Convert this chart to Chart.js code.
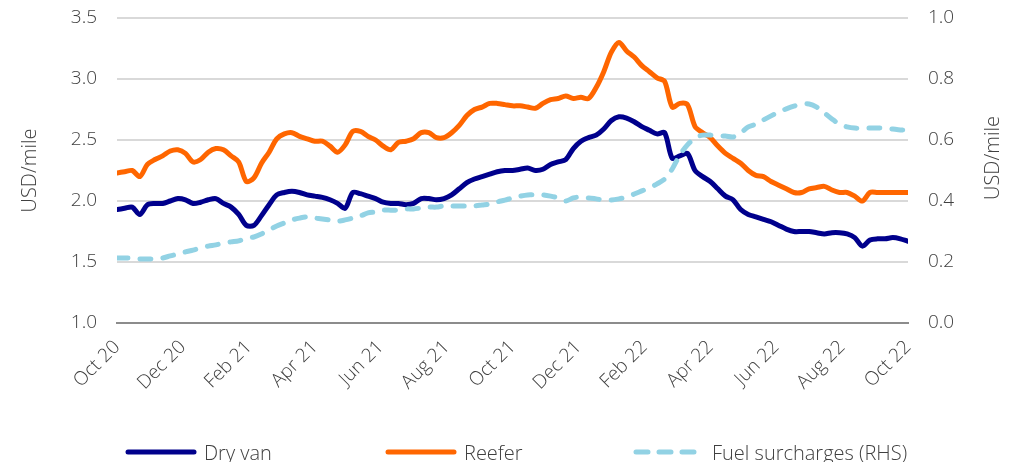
<!DOCTYPE html>
<html>
<head>
<meta charset="utf-8">
<script src="https://cdn.jsdelivr.net/npm/chart.js@4.4.1/dist/chart.umd.min.js"></script>
<style>
  body { margin: 0; background: #fff; }
  #wrap { position: relative; width: 1026px; height: 462px; }
  #legend { position: absolute; left: 0; top: 438px; width: 1026px; height: 28px;
    font-family: 'Open Sans', sans-serif; font-weight: 300; font-size: 20px; color: #404040; }
  .item { position: absolute; top: 0; height: 28px; display: flex; align-items: center; white-space: nowrap; }
  .item svg { margin-right: 7px; }
</style>
</head>
<body>
<div id="wrap">
  <canvas id="chart" width="1026" height="462"></canvas>
  <div id="legend"></div>
</div>
<script>
// x axis: two-monthly labels, weekly observations in between
var tickLabels = ['Oct 20', 'Dec 20', 'Feb 21', 'Apr 21', 'Jun 21', 'Aug 21', 'Oct 21',
                  'Dec 21', 'Feb 22', 'Apr 22', 'Jun 22', 'Aug 22', 'Oct 22'];

var seriesNames = ['Dry van', 'Reefer', 'Fuel surcharges (RHS)'];
var seriesColors = ['#00008c', '#ff6600', '#92d2e4'];

// USD/mile, weekly
var dryVan = [1.93,1.94,1.95,1.89,1.97,1.98,1.98,2.00,2.02,2.01,
              1.98,1.99,2.01,2.02,1.98,1.95,1.89,1.80,1.80,1.88,
              1.97,2.05,2.07,2.08,2.07,2.05,2.04,2.03,2.01,1.98,
              1.94,2.07,2.06,2.04,2.02,1.99,1.98,1.98,1.97,1.98,
              2.02,2.02,2.01,2.02,2.05,2.10,2.15,2.18,2.20,2.22,
              2.24,2.25,2.25,2.26,2.27,2.25,2.26,2.30,2.32,2.34,
              2.43,2.49,2.52,2.54,2.59,2.66,2.69,2.68,2.65,2.61,
              2.58,2.55,2.56,2.35,2.37,2.39,2.25,2.20,2.16,2.10,
              2.04,2.01,1.93,1.89,1.87,1.85,1.83,1.80,1.77,1.75,
              1.75,1.75,1.74,1.73,1.74,1.74,1.73,1.70,1.63,1.68,
              1.69,1.69,1.70,1.69,1.67];

var reefer = [2.23,2.24,2.25,2.20,2.30,2.34,2.37,2.41,2.42,2.39,
              2.32,2.34,2.40,2.43,2.42,2.37,2.32,2.16,2.19,2.31,
              2.40,2.51,2.55,2.56,2.53,2.51,2.49,2.49,2.45,2.40,
              2.46,2.57,2.57,2.53,2.50,2.45,2.42,2.48,2.49,2.51,
              2.56,2.56,2.52,2.52,2.56,2.62,2.70,2.75,2.77,2.80,
              2.80,2.79,2.78,2.78,2.77,2.76,2.80,2.83,2.84,2.86,
              2.84,2.85,2.84,2.93,3.06,3.22,3.30,3.23,3.18,3.11,
              3.06,3.01,2.98,2.77,2.80,2.79,2.61,2.56,2.52,2.45,
              2.39,2.35,2.31,2.25,2.21,2.20,2.16,2.13,2.10,2.07,
              2.07,2.10,2.11,2.12,2.09,2.07,2.07,2.04,2.00,2.07,
              2.07,2.07,2.07,2.07,2.07];

// right hand scale
var fuel = [0.213,0.213,0.213,0.210,0.210,0.210,0.213,0.220,0.226,0.233,
            0.239,0.246,0.252,0.256,0.262,0.266,0.269,0.279,0.282,0.292,
            0.305,0.318,0.328,0.338,0.344,0.348,0.344,0.341,0.338,0.334,
            0.338,0.344,0.351,0.361,0.364,0.370,0.370,0.370,0.374,0.374,
            0.377,0.380,0.380,0.384,0.384,0.384,0.384,0.384,0.387,0.390,
            0.397,0.403,0.410,0.416,0.420,0.420,0.420,0.416,0.410,0.400,
            0.410,0.413,0.410,0.407,0.403,0.403,0.407,0.413,0.423,0.433,
            0.443,0.456,0.472,0.505,0.551,0.584,0.607,0.616,0.616,0.613,
            0.613,0.610,0.623,0.643,0.652,0.666,0.679,0.692,0.702,0.711,
            0.718,0.718,0.708,0.689,0.669,0.652,0.643,0.639,0.639,0.639,
            0.639,0.639,0.636,0.633,0.633];

var leftTicks = [1.0, 1.5, 2.0, 2.5, 3.0, 3.5];
var rightTicks = [0.0, 0.2, 0.4, 0.6, 0.8, 1.0];

var FONT = 'Open Sans';
var TXT = '#404040';
var months = (tickLabels.length - 1) * 2;

const toPoints = (arr) => arr.map((v, i) => ({ x: i * months / (arr.length - 1), y: v }));

const lineSet = (i, data, axis, dash) => ({
  label: seriesNames[i],
  data: toPoints(data),
  yAxisID: axis,
  borderColor: seriesColors[i],
  borderWidth: 5,
  borderDash: dash,
  borderCapStyle: 'round',
  borderJoinStyle: 'round',
  pointRadius: 0,
  tension: 0.3,
  fill: false
});

// right axis title reads bottom-to-top, so draw it here
const rightTitle = {
  id: 'rightTitle',
  afterDraw(chart) {
    const c = chart.ctx;
    c.save();
    c.translate(993, 158);
    c.rotate(-Math.PI / 2);
    c.font = '300 20px "' + FONT + '"';
    c.fillStyle = TXT;
    c.textAlign = 'center';
    c.textBaseline = 'middle';
    c.fillText('USD/mile', 0, 0);
    c.restore();
  }
};

const fitY = (w) => (s) => { s.width = w; s.paddingTop = 0; s.paddingBottom = 0; };

new Chart(document.getElementById('chart'), {
  type: 'line',
  data: {
    datasets: [
      lineSet(2, fuel, 'y1', [11, 12]),
      lineSet(1, reefer, 'y', []),
      lineSet(0, dryVan, 'y', [])
    ]
  },
  options: {
    responsive: false,
    animation: false,
    layout: { padding: { top: 18, bottom: 50, left: 0, right: 0 } },
    plugins: { legend: { display: false }, tooltip: { enabled: false } },
    scales: {
      x: {
        type: 'linear',
        min: 0,
        max: months,
        afterBuildTicks: (s) => { s.ticks = tickLabels.map((t, i) => ({ value: i * 2 })); },
        afterFit: (s) => { s.height = 89; },
        ticks: {
          autoSkip: false,
          maxRotation: 45,
          minRotation: 45,
          padding: 5,
          color: TXT,
          font: { family: FONT, size: 19, weight: '300' },
          callback: (v) => tickLabels[Math.round(v / 2)]
        },
        grid: { display: false },
        border: { display: true, color: '#8c8c8c', width: 2 }
      },
      y: {
        position: 'left',
        min: leftTicks[0],
        max: leftTicks[leftTicks.length - 1],
        afterBuildTicks: (s) => { s.ticks = leftTicks.map((v) => ({ value: v })); },
        afterFit: fitY(117),
        ticks: {
          padding: 20,
          color: TXT,
          font: { family: FONT, size: 19, weight: '300' },
          callback: (v) => v.toFixed(1)
        },
        grid: {
          drawTicks: false,
          lineWidth: 2,
          color: (ctx) => (ctx.tick && ctx.tick.value === leftTicks[0]) ? 'rgba(0,0,0,0)' : '#d9d9d9'
        },
        border: { display: false },
        title: {
          display: true,
          text: 'USD/mile',
          color: TXT,
          font: { family: FONT, size: 20, weight: '300' },
          padding: { top: 18, bottom: 0 }
        }
      },
      y1: {
        position: 'right',
        min: rightTicks[0],
        max: rightTicks[rightTicks.length - 1],
        afterBuildTicks: (s) => { s.ticks = rightTicks.map((v) => ({ value: v })); },
        afterFit: fitY(118),
        ticks: {
          padding: 20,
          color: TXT,
          font: { family: FONT, size: 19, weight: '300' },
          callback: (v) => v.toFixed(1)
        },
        grid: { display: false, drawTicks: false },
        border: { display: false }
      }
    }
  },
  plugins: [rightTitle]
});

// legend below the chart
var legendLeft = [125, 385, 633];
var legendDash = [null, null, '12 11'];
var legend = document.getElementById('legend');
seriesNames.forEach((name, i) => {
  const item = document.createElement('div');
  item.className = 'item';
  item.style.left = legendLeft[i] + 'px';
  const dash = legendDash[i] ? ' stroke-dasharray="' + legendDash[i] + '"' : '';
  item.innerHTML = '<svg width="72" height="10"><line x1="3" y1="5" x2="69" y2="5" stroke="' +
    seriesColors[i] + '" stroke-width="5" stroke-linecap="round"' + dash + '/></svg>' +
    '<span>' + name + '</span>';
  legend.appendChild(item);
});
</script>
</body>
</html>
